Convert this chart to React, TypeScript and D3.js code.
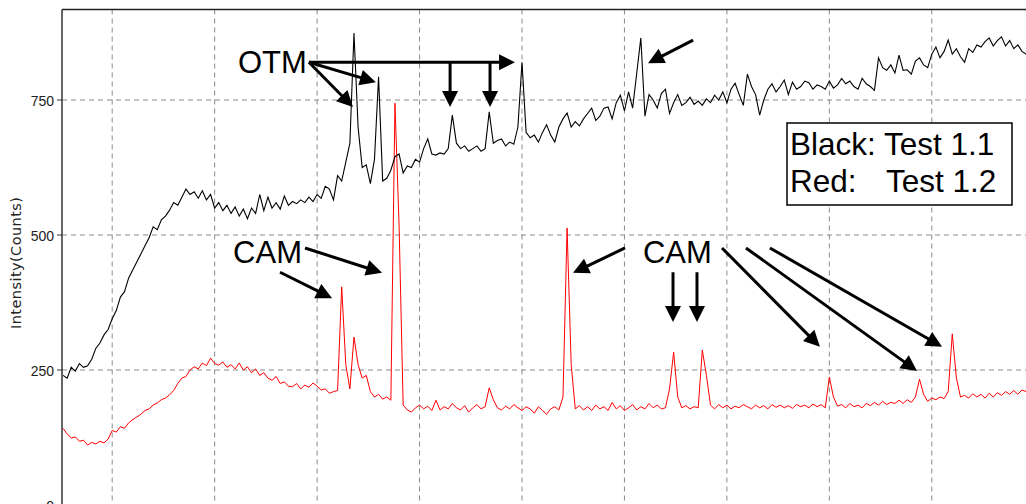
import React from 'react';
import * as d3 from 'd3';

// 2-theta sampling of the scan (degrees)
const START_ANGLE = 2.6;
const STEP = 0.2;

// Black: Test 1.1 (counts)
const blackCounts = [
  240, 235, 255, 248, 262, 255, 258, 270, 290, 300,
  315, 325, 345, 360, 385, 395, 420, 435, 450, 465,
  480, 495, 515, 510, 528, 535, 546, 560, 555, 570,
  585, 575, 580, 568, 582, 565, 575, 550, 560, 545,
  555, 540, 552, 535, 548, 530, 550, 540, 575, 545,
  570, 550, 560, 548, 572, 555, 562, 558, 565, 560,
  570, 562, 575, 568, 590, 585, 565, 610, 600, 635,
  670, 874, 700, 625, 630, 595, 640, 793, 600, 605,
  620, 645, 650, 615, 628, 625, 640, 635, 660, 678,
  650, 648, 652, 650, 660, 722, 670, 660, 665, 655,
  660, 665, 655, 660, 728, 670, 675, 678, 665, 672,
  668, 700, 820, 690, 680, 685, 672, 690, 704, 685,
  672, 700, 715, 726, 700, 710, 702, 715, 725, 735,
  712, 720, 735, 737, 715, 745, 759, 730, 765, 735,
  800, 865, 720, 760, 750, 735, 762, 770, 725, 745,
  760, 740, 745, 755, 742, 748, 740, 752, 745, 759,
  750, 765, 745, 770, 781, 760, 740, 798, 775, 760,
  722, 750, 770, 780, 765, 775, 787, 760, 783, 770,
  775, 785, 782, 770, 778, 775, 770, 785, 772, 778,
  790, 780, 785, 775, 770, 790, 780, 775, 768, 828,
  810, 805, 815, 800, 833, 805, 806, 798, 822, 828,
  815, 810, 835, 848, 828, 840, 861, 835, 845, 830,
  820, 845, 838, 852, 848, 858, 865, 850, 860, 867,
  850, 860, 845, 852, 840, 835, 845,
];

// Red: Test 1.2 (counts)
const redCounts = [
  142, 132, 124, 126, 118, 120, 111, 116, 113, 118,
  115, 122, 138, 135, 145, 142, 152, 158, 163, 168,
  175, 178, 185, 189, 195, 198, 204, 212, 225, 235,
  238, 250, 256, 252, 263, 258, 272, 262, 259, 265,
  255, 260, 252, 263, 250, 256, 245, 252, 240, 245,
  235, 231, 238, 225, 228, 220, 219, 225, 215, 222,
  218, 226, 220, 213, 215, 207, 210, 212, 404, 260,
  215, 311, 260, 235, 240, 210, 200, 205, 196, 200,
  194, 744, 520, 185, 176, 172, 180, 185, 178, 183,
  175, 194, 176, 182, 178, 188, 180, 176, 184, 172,
  180, 186, 178, 182, 217, 195, 180, 176, 183, 178,
  186, 180, 175, 182, 178, 170, 182, 175, 168, 178,
  182, 176, 200, 513, 260, 178, 184, 176, 182, 175,
  185, 178, 182, 175, 190, 178, 184, 175, 180, 186,
  176, 182, 178, 188, 180, 185, 178, 180, 215, 283,
  200, 180, 184, 178, 182, 180, 287, 240, 185, 178,
  186, 180, 185, 178, 183, 180, 186, 182, 178, 185,
  180, 184, 178, 186, 181, 185, 180, 184, 179, 186,
  182, 185, 180, 187, 182, 186, 180, 237, 200, 183,
  186, 180, 188, 182, 185, 180, 188, 184, 190, 185,
  192, 186, 190, 188, 194, 188, 195, 190, 200, 233,
  205, 192, 198, 195, 200, 197, 210, 317, 235, 200,
  203, 198, 206, 200, 205, 198, 207, 200, 208, 203,
  210, 205, 212, 205, 213, 210, 214,
];

const yTicks = [0, 250, 500, 750];
const xGridAngles = [5, 10, 15, 20, 25, 30, 35, 40, 45, 50];

// Annotation labels (angle, counts at baseline-left)
const labels = [
  { text: 'OTM', at: [11.14, 800] },
  { text: 'CAM', at: [10.9, 448] },
  { text: 'CAM', at: [30.9, 448] },
];

// Annotation arrows in data coordinates: [angle, counts] -> [angle, counts]
const arrows = [
  { from: [14.6, 820], to: [16.75, 737] },
  { from: [14.6, 820], to: [17.87, 783] },
  { from: [14.6, 820], to: [24.66, 820] },
  { from: [21.49, 820], to: [21.49, 737] },
  { from: [23.44, 820], to: [23.44, 737] },
  { from: [33.35, 861], to: [31.15, 818] },
  { from: [14.41, 476], to: [18.17, 430] },
  { from: [13.19, 431], to: [15.73, 383] },
  { from: [30.03, 476], to: [27.49, 430] },
  { from: [32.37, 431], to: [32.37, 339] },
  { from: [33.54, 431], to: [33.54, 339] },
  { from: [34.76, 476], to: [39.54, 293] },
  { from: [35.93, 476], to: [44.28, 248] },
  { from: [37.1, 476], to: [45.5, 293] },
];

const legendLines = ['Black: Test 1.1', 'Red:', 'Test 1.2'];

const W = 1026;
const H = 504;
const PLOT_L = 62;
const PLOT_T = 9.5;
const PLOT_B = 505;

export default function App() {
  const x = d3.scaleLinear().domain([2.55, 50.5]).range([PLOT_L, 1044.5]);
  const y = d3.scaleLinear().domain([0, 917.6]).range([PLOT_B, PLOT_T]);

  const toPts = (arr: number[]) => arr.map((c, i) => [START_ANGLE + i * STEP, c] as [number, number]);
  const line = d3
    .line<[number, number]>()
    .x((d) => x(d[0]))
    .y((d) => y(d[1]));

  const arrowShape = (a: { from: number[]; to: number[] }) => {
    const x1 = x(a.from[0]);
    const y1 = y(a.from[1]);
    const x2 = x(a.to[0]);
    const y2 = y(a.to[1]);
    const dx = x2 - x1;
    const dy = y2 - y1;
    const len = Math.hypot(dx, dy);
    const ux = dx / len;
    const uy = dy / len;
    const hl = 16;
    const hw = 8;
    const bx = x2 - ux * hl;
    const by = y2 - uy * hl;
    const px = -uy;
    const py = ux;
    return {
      line: `M${x1},${y1}L${bx + ux * 2},${by + uy * 2}`,
      head: `M${x2},${y2}L${bx + px * hw},${by + py * hw}L${bx - px * hw},${by - py * hw}Z`,
    };
  };

  const font = "'Liberation Sans', Arial, sans-serif";

  return (
    <svg
      width={W}
      height={H}
      style={{ position: 'absolute', left: 0, top: 0, background: '#fff' }}
      xmlns="http://www.w3.org/2000/svg"
    >
      <defs>
        <clipPath id="plotClip">
          <rect x={PLOT_L} y={PLOT_T} width={W - PLOT_L} height={PLOT_B - PLOT_T} />
        </clipPath>
      </defs>
      <rect x={0} y={0} width={W} height={H} fill="#fff" />

      {/* grid */}
      <g stroke="#8a8a8a" strokeWidth={1} strokeDasharray="5,4" fill="none">
        {xGridAngles.map((a) => (
          <line key={'gx' + a} x1={x(a)} x2={x(a)} y1={PLOT_T} y2={PLOT_B} />
        ))}
        {yTicks
          .filter((t) => t > 0)
          .map((t) => (
            <line key={'gy' + t} x1={PLOT_L} x2={W} y1={y(t)} y2={y(t)} />
          ))}
      </g>

      {/* series */}
      <g clipPath="url(#plotClip)" fill="none" strokeLinejoin="miter">
        <path d={line(toPts(redCounts)) || ''} stroke="#ff0000" strokeWidth={1} />
        <path d={line(toPts(blackCounts)) || ''} stroke="#000" strokeWidth={1.1} />
      </g>

      {/* axes frame */}
      <line x1={PLOT_L} x2={PLOT_L} y1={PLOT_T} y2={PLOT_B} stroke="#333" strokeWidth={1.5} />
      <line x1={PLOT_L} x2={W} y1={PLOT_T} y2={PLOT_T} stroke="#222" strokeWidth={1.5} />

      {/* y ticks */}
      <g fontFamily={font} fontSize={14} fill="#222">
        {yTicks.map((t) => (
          <g key={'t' + t}>
            <line x1={PLOT_L - 5} x2={PLOT_L} y1={y(t)} y2={y(t)} stroke="#333" strokeWidth={1} />
            <text x={PLOT_L - 8} y={y(t) + 5.5} textAnchor="end">
              {t}
            </text>
          </g>
        ))}
      </g>
      <text
        transform="translate(20.5,263) rotate(-90)"
        textAnchor="middle"
        fontFamily="'DejaVu Sans', Verdana, sans-serif"
        fontSize={14.5}
        fill="#222"
        textLength={132}
        lengthAdjust="spacing"
      >
        Intensity(Counts)
      </text>

      {/* annotations */}
      <g fill="#000" stroke="none">
        {arrows.map((a, i) => {
          const s = arrowShape(a);
          return (
            <g key={'a' + i}>
              <path d={s.line} stroke="#000" strokeWidth={3} fill="none" />
              <path d={s.head} fill="#000" />
            </g>
          );
        })}
      </g>
      <g fontFamily={font} fontSize={31} fill="#000">
        {labels.map((l, i) => (
          <text key={'l' + i} x={x(l.at[0])} y={y(l.at[1])}>
            {l.text}
          </text>
        ))}
      </g>

      {/* legend */}
      <rect x={787} y={123} width={225} height={82} fill="#fff" stroke="#000" strokeWidth={1.5} />
      <g fontFamily={font} fontSize={31.5} fill="#000">
        <text x={790} y={155}>
          {legendLines[0]}
        </text>
        <text x={790} y={192}>
          {legendLines[1]}
          <tspan x={886}>{legendLines[2]}</tspan>
        </text>
      </g>
    </svg>
  );
}
